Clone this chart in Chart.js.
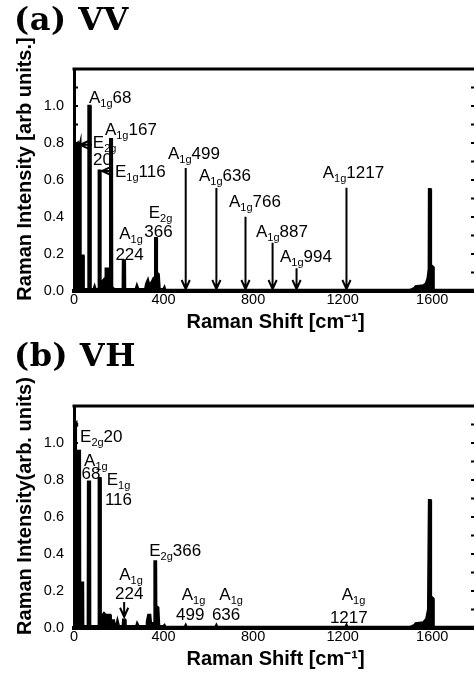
<!DOCTYPE html>
<html lang="en">
<head>
  <meta charset="UTF-8">
  <meta name="viewport" content="width=device-width, initial-scale=1.0">
  <title>Raman spectra VV / VH</title>
  <style>
    html, body { margin: 0; padding: 0; background: #fff; overflow: hidden; }
    #page { position: relative; width: 474px; height: 673px; overflow: hidden; }
    .panel { position: absolute; left: 0; width: 490px; height: 336px; }
    .tag {
      position: absolute; left: 14px; margin: 0;
      font-family: "DejaVu Serif", serif; font-weight: bold;
      font-size: 32px; line-height: 32px; letter-spacing: 0.5px; color: #000;
    }
  </style>
</head>
<body>
  <div id="page">
    <div class="panel" style="top:0px"><canvas id="vv" width="490" height="336"></canvas></div>
    <div class="panel" style="top:337px"><canvas id="vh" width="490" height="336"></canvas></div>
    <div class="tag" style="top:3px">(a) VV</div>
    <div class="tag" style="top:339px">(b) VH</div>
  </div>
  <script src="https://cdn.jsdelivr.net/npm/chart.js"></script>
  <script>
    // spectra (Raman shift in cm^-1, intensity in arb. units)
    const vvShift = [0, 5, 12, 18, 24, 28, 29, 42, 43, 64, 65, 73, 74, 88, 92, 96, 110, 111, 117, 118,
      126, 132, 140, 142, 155, 156, 161, 162, 169, 170, 180, 218, 219, 227, 228, 276, 281, 287,
      318, 323, 330, 336, 348, 356, 362, 363, 369, 370, 378, 382, 400, 404, 408,
      1500, 1520, 1526, 1560, 1572, 1580, 1585, 1586, 1592, 1594, 1604, 1606, 1800];
    const vvIntensity = [0.79, 0.80, 0.79, 0.80, 0.78, 0.80, 0.19, 0.19, 0.01, 0.01, 1.00, 1.00, 0.01, 0.01, 0.025, 0.01, 0.01, 0.65, 0.65, 0.05,
      0.05, 0.06, 0.07, 0.12, 0.12, 0.04, 0.04, 0.82, 0.82, 0.02, 0.01, 0.01, 0.165, 0.165, 0.01, 0.01, 0.03, 0.01,
      0.01, 0.04, 0.06, 0.03, 0.05, 0.07, 0.07, 0.285, 0.285, 0.10, 0.09, 0.01, 0.01, 0.02, 0.005,
      0.005, 0.015, 0.025, 0.03, 0.04, 0.07, 0.12, 0.55, 0.55, 0.14, 0.13, 0.005, 0.005];

    const vhShift = [0, 10, 13, 26, 27, 40, 41, 62, 63, 71, 72, 110, 111, 118, 119, 128, 134, 142, 152, 162,
      164, 178, 180, 190, 194, 200, 218, 220, 228, 230, 278, 282, 288, 322, 326, 332, 340, 344,
      358, 360, 366, 367, 376, 380, 400, 404, 408, 495, 499, 503, 632, 636, 640, 1213, 1217, 1221,
      1500, 1520, 1526, 1560, 1574, 1582, 1586, 1592, 1594, 1604, 1606, 1800];
    const vhIntensity = [1.10, 1.11, 1.00, 0.99, 0.245, 0.245, 0.01, 0.01, 0.79, 0.79, 0.01, 0.01, 0.81, 0.81, 0.07, 0.07, 0.08, 0.07, 0.07, 0.07,
      0.04, 0.04, 0.02, 0.02, 0.04, 0.01, 0.01, 0.045, 0.045, 0.01, 0.01, 0.025, 0.01, 0.01, 0.035, 0.07, 0.07, 0.02,
      0.03, 0.36, 0.36, 0.12, 0.11, 0.01, 0.01, 0.015, 0.005, 0.005, 0.015, 0.005, 0.005, 0.015, 0.005, 0.005, 0.015, 0.005,
      0.005, 0.015, 0.025, 0.03, 0.05, 0.10, 0.69, 0.69, 0.17, 0.16, 0.005, 0.005];

    const xTickStep = 400;
    const yTickLabels = ['0.0', '0.2', '0.4', '0.6', '0.8', '1.0'];

    // mode labels: symmetry, subscript, wavenumber; anchors in data units (cm^-1, intensity)
    const vvModes = [
      { sym: 'A', sub: '1g', num: '68', x: 67, y: 1.016 },
      { sym: 'E', sub: '2g', x: 84, y: 0.773, num2: '20', x2: 85, y2: 0.681, arrow: [80, 0.79, 27, 0.79] },
      { sym: 'A', sub: '1g', num: '167', x: 138, y: 0.843 },
      { sym: 'E', sub: '1g', num: '116', x: 183, y: 0.616, arrow: [170, 0.649, 125, 0.649] },
      { sym: 'A', sub: '1g', x: 202, y: 0.279, num2: '224', x2: 185, y2: 0.168 },
      { sym: 'E', sub: '2g', x: 334, y: 0.393, num2: '366', x2: 314, y2: 0.292 },
      { sym: 'A', sub: '1g', num: '499', x: 420, y: 0.712, arrow: [499, 0.665, 499, 0.01] },
      { sym: 'A', sub: '1g', num: '636', x: 558, y: 0.596, arrow: [636, 0.557, 636, 0.01] },
      { sym: 'A', sub: '1g', num: '766', x: 692, y: 0.456, arrow: [766, 0.402, 766, 0.01] },
      { sym: 'A', sub: '1g', num: '887', x: 813, y: 0.294, arrow: [887, 0.261, 887, 0.01] },
      { sym: 'A', sub: '1g', num: '994', x: 920, y: 0.158, arrow: [994, 0.123, 994, 0.01] },
      { sym: 'A', sub: '1g', num: '1217', x: 1111, y: 0.609, arrow: [1217, 0.558, 1217, 0.01] }
    ];
    const vhModes = [
      { sym: 'E', sub: '2g', num: '20', x: 27, y: 1.007, box: true },
      { sym: 'A', sub: '1g', x: 45, y: 0.876, num2: '68', x2: 34, y2: 0.805 },
      { sym: 'E', sub: '1g', x: 146, y: 0.773, num2: '116', x2: 138, y2: 0.665 },
      { sym: 'E', sub: '2g', num: '366', x: 336, y: 0.389 },
      { sym: 'A', sub: '1g', x: 202, y: 0.259, num2: '224', x2: 183, y2: 0.155, arrow: [224, 0.14, 224, 0.06] },
      { sym: 'A', sub: '1g', x: 481, y: 0.151, num2: '499', x2: 456, y2: 0.043 },
      { sym: 'A', sub: '1g', x: 649, y: 0.151, num2: '636', x2: 616, y2: 0.043 },
      { sym: 'A', sub: '1g', x: 1196, y: 0.151, num2: '1217', x2: 1143, y2: 0.029 }
    ];

    const FONT = "'Liberation Sans', Arial, Helvetica, sans-serif";

    function drawMode(ctx, x, y, m) {
      ctx.font = '17px ' + FONT;
      ctx.fillText(m.sym, x, y);
      let w = ctx.measureText(m.sym).width;
      ctx.font = '11px ' + FONT;
      ctx.fillText(m.sub, x + w, y + 4);
      w += ctx.measureText(m.sub).width;
      if (m.num) {
        ctx.font = '17px ' + FONT;
        ctx.fillText(m.num, x + w, y);
        w += ctx.measureText(m.num).width;
      }
      return w;
    }

    function drawArrow(ctx, x1, y1, x2, y2) {
      const ang = Math.atan2(y2 - y1, x2 - x1);
      const len = 10, spread = 0.42;
      ctx.beginPath();
      ctx.moveTo(x1, y1);
      ctx.lineTo(x2, y2);
      ctx.moveTo(x2 - len * Math.cos(ang - spread), y2 - len * Math.sin(ang - spread));
      ctx.lineTo(x2, y2);
      ctx.lineTo(x2 - len * Math.cos(ang + spread), y2 - len * Math.sin(ang + spread));
      ctx.stroke();
    }

    function labelPlugin(items) {
      return {
        id: 'modeLabels',
        afterDatasetsDraw(chart) {
          const { ctx, scales: { x, y } } = chart;
          ctx.save();
          ctx.fillStyle = '#000';
          ctx.strokeStyle = '#000';
          ctx.lineWidth = 2;
          ctx.textAlign = 'left';
          ctx.textBaseline = 'alphabetic';
          items.forEach(m => {
            const px = x.getPixelForValue(m.x), py = y.getPixelForValue(m.y);
            if (m.box) {
              ctx.save();
              ctx.globalAlpha = 0;
              const w = drawMode(ctx, px, py, m);
              ctx.restore();
              ctx.fillStyle = '#fff';
              ctx.fillRect(px - 3, py - 15, w + 4, 23);
              ctx.fillStyle = '#000';
            }
            drawMode(ctx, px, py, m);
            if (m.num2) {
              ctx.font = '17px ' + FONT;
              ctx.fillText(m.num2, x.getPixelForValue(m.x2), y.getPixelForValue(m.y2));
            }
            if (m.arrow) {
              const a = m.arrow;
              drawArrow(ctx, x.getPixelForValue(a[0]), y.getPixelForValue(a[1]),
                x.getPixelForValue(a[2]), y.getPixelForValue(a[3]));
            }
          });
          ctx.restore();
        }
      };
    }

    function framePlugin(yTitle) {
      return {
        id: 'frame',
        afterDraw(chart) {
          const { ctx, chartArea: a, scales: { y } } = chart;
          ctx.save();
          ctx.strokeStyle = '#000';
          ctx.lineWidth = 3;
          ctx.beginPath();
          ctx.moveTo(a.left - 1.5, a.top);
          ctx.lineTo(a.right, a.top);
          ctx.lineTo(a.right, a.bottom);
          ctx.stroke();
          // inward tick marks on both sides
          ctx.lineWidth = 2;
          y.ticks.forEach(t => {
            if (t.value <= 0 || t.value >= 1.19) return;
            const py = y.getPixelForValue(t.value);
            ctx.beginPath();
            ctx.moveTo(a.left, py); ctx.lineTo(a.left + 4, py);
            ctx.moveTo(a.right, py); ctx.lineTo(a.right - 6, py);
            ctx.stroke();
          });
          // vertical axis title
          ctx.translate(25, (a.top + a.bottom) / 2 - 11);
          ctx.rotate(-Math.PI / 2);
          ctx.fillStyle = '#000';
          ctx.font = 'bold 20px ' + FONT;
          ctx.textAlign = 'center';
          ctx.textBaseline = 'middle';
          ctx.fillText(yTitle, 0, 0);
          ctx.restore();
        }
      };
    }

    function makeChart(id, shift, intensity, modes, yTitle) {
      const points = shift.map((s, i) => ({ x: s, y: intensity[i] }));
      return new Chart(document.getElementById(id), {
        type: 'line',
        data: {
          datasets: [{
            data: points,
            borderColor: '#000',
            backgroundColor: '#000',
            borderWidth: 2.5,
            pointRadius: 0,
            fill: 'origin',
            tension: 0
          }]
        },
        options: {
          responsive: false,
          animation: false,
          layout: { padding: { top: 69, right: 13, left: 0, bottom: 0 } },
          plugins: { legend: { display: false }, tooltip: { enabled: false } },
          scales: {
            x: {
              type: 'linear',
              min: 0,
              max: 1800,
              afterFit: s => { s.height = 45; },
              grid: { display: false, drawTicks: false },
              border: { color: '#000', width: 4 },
              ticks: {
                stepSize: xTickStep,
                includeBounds: false,
                padding: 0,
                autoSkip: false,
                maxRotation: 0,
                color: '#000',
                font: { family: FONT, size: 14.5 },
                callback: v => (v % xTickStep === 0 ? String(v) : '')
              },
              title: {
                display: true,
                text: 'Raman Shift [cm\u207B\u00B9]',
                color: '#000',
                font: { family: FONT, size: 20, weight: 'bold' },
                padding: { top: 0, bottom: 2 }
              }
            },
            y: {
              min: 0,
              max: 1.2,
              afterFit: s => { s.width = 74; },
              grid: { display: false, drawTicks: false },
              border: { color: '#000', width: 3 },
              ticks: {
                stepSize: 0.1,
                padding: 10,
                autoSkip: false,
                color: '#000',
                font: { family: FONT, size: 14.5 },
                callback: v => {
                  const k = Math.round(v * 10);
                  return k % 2 === 0 && k / 2 < yTickLabels.length ? yTickLabels[k / 2] : '';
                }
              }
            }
          }
        },
        plugins: [labelPlugin(modes), framePlugin(yTitle)]
      });
    }

    makeChart('vv', vvShift, vvIntensity, vvModes, 'Raman Intensity [arb units.]');
    makeChart('vh', vhShift, vhIntensity, vhModes, 'Raman Intensity(arb. units)');
  </script>
</body>
</html>
